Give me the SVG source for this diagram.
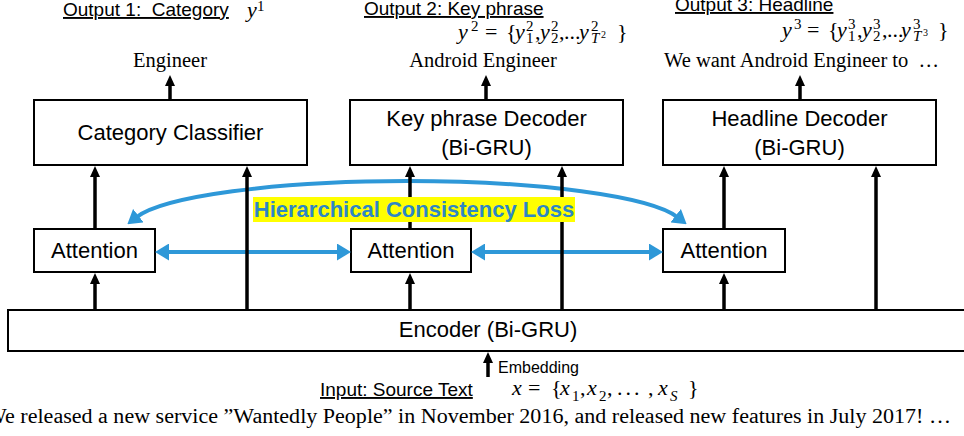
<svg xmlns="http://www.w3.org/2000/svg" width="964" height="436" viewBox="0 0 964 436">
  <defs>
    <style>
      .box { fill: #ffffff; stroke: #000000; stroke-width: 2; }
      .sans { font-family: "Liberation Sans", Arial, sans-serif; fill: #000000; }
      .serif { font-family: "Liberation Serif", "Times New Roman", serif; fill: #000000; }
      .label { font-size: 22px; text-anchor: middle; }
      .title { font-size: 19px; text-decoration: underline; }
      .word { font-size: 20.5px; }
      .m { font-size: 22px; }
      .mi { font-size: 22px; font-style: italic; }
      .s { font-size: 15px; }
      .si { font-size: 15px; font-style: italic; }
      .ss { font-size: 10px; }
      .flow { fill: none; stroke: #000000; stroke-width: 3.5; marker-end: url(#head); }
      .loss { fill: none; stroke: #2e98d8; stroke-width: 4; marker-start: url(#bhead); marker-end: url(#bhead); }
    </style>
    <marker id="head" markerUnits="userSpaceOnUse" markerWidth="11" markerHeight="10" refX="2" refY="5" orient="auto">
      <path d="M0,0 L11,5 L0,10 Z" fill="#000000"/>
    </marker>
    <marker id="bhead" markerUnits="userSpaceOnUse" markerWidth="14" markerHeight="17" refX="3" refY="8.5" orient="auto-start-reverse">
      <path d="M0,0 L14,8.5 L0,17 Z" fill="#2e98d8"/>
    </marker>
  </defs>

  <!-- output headings -->
  <g id="output-category">
    <text class="sans title" x="63" y="16" xml:space="preserve">Output 1:  Category</text>
    <text class="serif"><tspan class="mi" x="247" y="17">y</tspan><tspan class="s" x="257" y="11">1</tspan></text>
    <text class="serif word" x="170" y="67" text-anchor="middle">Engineer</text>
  </g>
  <g id="output-keyphrase">
    <text class="sans title" x="364" y="15">Output 2: Key phrase</text>
    <text class="serif"><tspan class="mi" x="458" y="39">y</tspan><tspan class="s" x="471" y="31">2</tspan><tspan class="m" x="485" y="39">=</tspan><tspan class="m" x="506" y="39">{</tspan><tspan class="mi" x="515" y="39">y</tspan><tspan class="s" x="526" y="31">2</tspan><tspan class="s" x="526" y="43">1</tspan><tspan class="m" x="535" y="39">,</tspan><tspan class="mi" x="540" y="39">y</tspan><tspan class="s" x="551" y="31">2</tspan><tspan class="s" x="551" y="43">2</tspan><tspan class="m" x="559" y="39">,</tspan><tspan class="m" x="564" y="39">...</tspan><tspan class="mi" x="579" y="39">y</tspan><tspan class="s" x="591" y="31">2</tspan><tspan class="si" x="591" y="43">T</tspan><tspan class="ss" x="601" y="38">2</tspan><tspan class="m" x="617" y="39">}</tspan></text>
    <text class="serif word" x="483" y="67" text-anchor="middle">Android Engineer</text>
  </g>
  <g id="output-headline">
    <text class="sans title" x="675" y="11">Output 3: Headline</text>
    <text class="serif"><tspan class="mi" x="782" y="37">y</tspan><tspan class="s" x="794" y="29">3</tspan><tspan class="m" x="807" y="37">=</tspan><tspan class="m" x="828" y="37">{</tspan><tspan class="mi" x="837" y="37">y</tspan><tspan class="s" x="848" y="29">3</tspan><tspan class="s" x="848" y="41">1</tspan><tspan class="m" x="857" y="37">,</tspan><tspan class="mi" x="862" y="37">y</tspan><tspan class="s" x="873" y="29">3</tspan><tspan class="s" x="873" y="41">2</tspan><tspan class="m" x="882" y="37">,</tspan><tspan class="m" x="887" y="37">...</tspan><tspan class="mi" x="901" y="37">y</tspan><tspan class="s" x="913" y="29">3</tspan><tspan class="si" x="913" y="41">T</tspan><tspan class="ss" x="923" y="36">3</tspan><tspan class="m" x="938" y="37">}</tspan></text>
    <text class="serif word" x="664" y="67" xml:space="preserve">We want Android Engineer to  …</text>
  </g>

  <!-- model blocks -->
  <g id="category-classifier">
    <rect class="box" x="34" y="100" width="273" height="65"/>
    <text class="sans label" x="170.5" y="140">Category Classifier</text>
  </g>
  <g id="keyphrase-decoder">
    <rect class="box" x="350" y="100" width="273" height="65"/>
    <text class="sans label" x="486.5" y="126">Key phrase Decoder</text>
    <text class="sans label" x="486.5" y="155">(Bi-GRU)</text>
  </g>
  <g id="headline-decoder">
    <rect class="box" x="663" y="100" width="273" height="65"/>
    <text class="sans label" x="799.5" y="126">Headline Decoder</text>
    <text class="sans label" x="799.5" y="155">(Bi-GRU)</text>
  </g>
  <g id="attention-1">
    <rect class="box" x="34" y="229" width="121" height="43"/>
    <text class="sans label" x="94.5" y="258">Attention</text>
  </g>
  <g id="attention-2">
    <rect class="box" x="351" y="229" width="120" height="43"/>
    <text class="sans label" x="411" y="258">Attention</text>
  </g>
  <g id="attention-3">
    <rect class="box" x="663" y="229" width="122" height="43"/>
    <text class="sans label" x="724" y="258">Attention</text>
  </g>
  <g id="encoder">
    <rect class="box" x="8" y="310" width="970" height="41" stroke-width="2.5"/>
    <text class="sans label" x="488" y="337">Encoder (Bi-GRU)</text>
  </g>

  <!-- source input -->
  <g id="input">
    <text class="sans" x="498" y="373" font-size="16">Embedding</text>
    <text class="sans title" x="320" y="396">Input: Source Text</text>
    <text class="serif"><tspan class="mi" x="512" y="395" font-size="23px">x</tspan><tspan class="m" x="528" y="395" font-size="23px">=</tspan><tspan class="m" x="551" y="395" font-size="23px">{</tspan><tspan class="mi" x="560" y="395" font-size="23px">x</tspan><tspan class="s" x="572" y="401" font-size="16px">1</tspan><tspan class="m" x="580" y="395" font-size="23px">,</tspan><tspan class="mi" x="587" y="395" font-size="23px">x</tspan><tspan class="s" x="599" y="401" font-size="16px">2</tspan><tspan class="m" x="607" y="395" font-size="23px">,</tspan><tspan class="m" x="617" y="395" font-size="23px" letter-spacing="3">...</tspan><tspan class="m" x="648" y="395" font-size="23px">,</tspan><tspan class="mi" x="658" y="395" font-size="23px">x</tspan><tspan class="si" x="670" y="401" font-size="16px">S</tspan><tspan class="m" x="688" y="395" font-size="23px">}</tspan></text>
    <text class="serif" x="-14" y="423" font-size="20px" textLength="965" lengthAdjust="spacingAndGlyphs">We released a new service ”Wantedly People” in November 2016, and released new features in July 2017! …</text>
  </g>

  <!-- connectors -->
  <g id="connectors">
    <!-- consistency loss links between attention layers -->
    <path class="loss" d="M136,217.5 A277,46 0 0 1 678,217.5"/>
    <line class="loss" x1="166" y1="252" x2="340" y2="252"/>
    <line class="loss" x1="482" y1="252" x2="652" y2="252"/>

    <!-- encoder to attention -->
    <line class="flow" x1="95" y1="310" x2="95" y2="282"/>
    <line class="flow" x1="410" y1="310" x2="410" y2="282"/>
    <line class="flow" x1="724" y1="310" x2="724" y2="282"/>
    <!-- attention to heads -->
    <line class="flow" x1="95" y1="229" x2="95" y2="175"/>
    <line class="flow" x1="410" y1="229" x2="410" y2="175"/>
    <line class="flow" x1="724" y1="229" x2="724" y2="175"/>
    <!-- encoder state to heads -->
    <line class="flow" x1="247" y1="310" x2="247" y2="175"/>
    <line class="flow" x1="562" y1="310" x2="562" y2="175"/>
    <line class="flow" x1="876" y1="310" x2="876" y2="175"/>
    <!-- heads to outputs -->
    <line class="flow" x1="170" y1="100" x2="170" y2="84"/>
    <line class="flow" x1="486" y1="100" x2="486" y2="84"/>
    <line class="flow" x1="800" y1="100" x2="800" y2="84"/>
    <!-- embedding -->
    <line class="flow" x1="488" y1="377" x2="488" y2="361"/>

    <!-- loss label -->
    <rect x="253" y="197" width="322" height="25" fill="#ffff00"/>
    <text x="414" y="217" text-anchor="middle" font-family="Liberation Sans, Arial, sans-serif" font-weight="bold" font-size="22" fill="#2d86c6">Hierarchical Consistency Loss</text>
  </g>
</svg>
